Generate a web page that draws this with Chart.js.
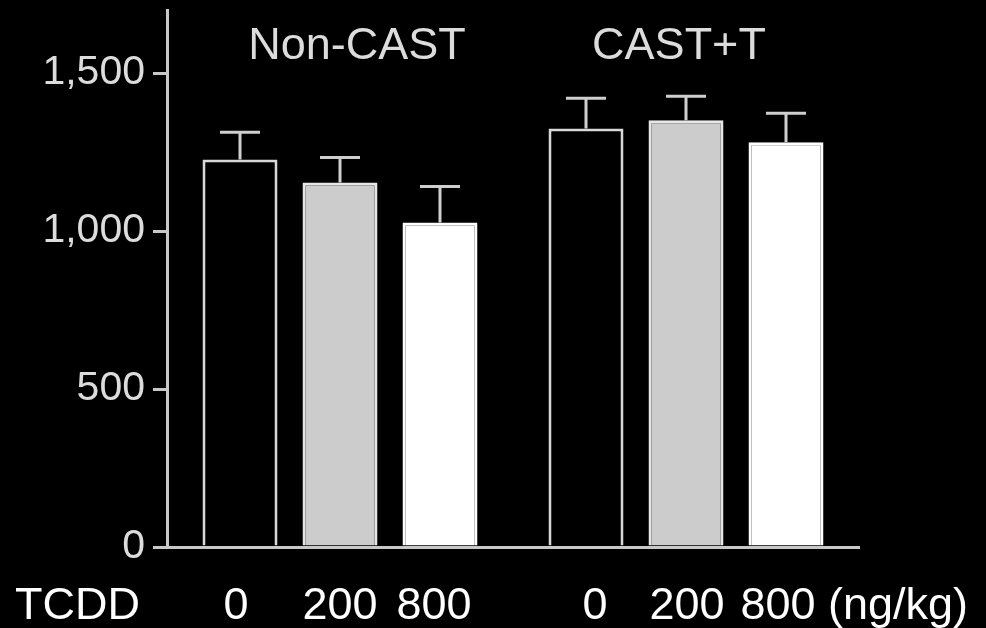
<!DOCTYPE html>
<html>
<head>
<meta charset="utf-8">
<script src="https://cdn.jsdelivr.net/npm/chart.js@4/dist/chart.umd.min.js"></script>
<style>
  html, body { margin: 0; padding: 0; background: #000; }
  #wrap { width: 986px; height: 628px; position: relative; }
</style>
</head>
<body>
<div id="wrap"><canvas id="c" width="986" height="628"></canvas></div>
<script>
// ---- data ----
const groups = ['Non-CAST', 'CAST+T'];
const doses = ['0', '200', '800'];
const mean0 = [1227, 1325];
const mean200 = [1154, 1351];
const mean800 = [1027, 1281];
const err0 = [86, 96];
const err200 = [79, 76];
const err800 = [114, 92];
const yTickValues = [0, 500, 1000, 1500];
const yMax = 1700;
const xLabel = 'TCDD';
const doseUnit = '(ng/kg)';

const means = [mean0, mean200, mean800];
const errs = [err0, err200, err800];
const fills = ['#000000', '#cccccc', '#ffffff'];
const borders = ['#d8d8d8', '#e6e6e6', '#ffffff'];

const errorBars = {
  id: 'errorBars',
  afterDatasetsDraw(chart) {
    const ctx = chart.ctx;
    const y = chart.scales.y;
    ctx.save();
    ctx.strokeStyle = '#cfcfcf';
    ctx.lineWidth = 3;
    chart.data.datasets.forEach((ds, i) => {
      const meta = chart.getDatasetMeta(i);
      meta.data.forEach((el, j) => {
        const top = y.getPixelForValue(ds.data[j] + errs[i][j]);
        ctx.beginPath();
        ctx.moveTo(el.x, el.y);
        ctx.lineTo(el.x, top);
        ctx.moveTo(el.x - 20, top);
        ctx.lineTo(el.x + 20, top);
        ctx.stroke();
      });
    });
    ctx.restore();
  }
};

const textLabels = {
  id: 'textLabels',
  afterDraw(chart) {
    const ctx = chart.ctx;
    const x = chart.scales.x;
    const area = chart.chartArea;
    const titleShift = [17, -7];
    const labelShift = [[-4, 0, -6], [9, 1, -8]];
    ctx.save();
    // group titles
    ctx.fillStyle = '#dcdcdc';
    ctx.font = '45px "Liberation Sans", Arial, sans-serif';
    ctx.textAlign = 'center';
    ctx.textBaseline = 'middle';
    groups.forEach((g, i) => {
      ctx.fillText(g, x.getPixelForValue(i) + titleShift[i], area.top + 37);
    });
    // dose labels
    ctx.fillStyle = '#ffffff';
    ctx.font = '45px "Liberation Sans", Arial, sans-serif';
    ctx.textBaseline = 'alphabetic';
    const base = area.bottom + 72;
    ctx.textAlign = 'left';
    ctx.fillText(xLabel, 15, base);
    ctx.textAlign = 'center';
    let lastRight = 0;
    for (let gi = 0; gi < groups.length; gi++) {
      doses.forEach((d, di) => {
        const el = chart.getDatasetMeta(di).data[gi];
        const cx = el.x + labelShift[gi][di];
        ctx.fillText(d, cx, base);
        lastRight = cx + ctx.measureText(d).width / 2;
      });
    }
    ctx.textAlign = 'left';
    ctx.fillText(doseUnit, lastRight + ctx.measureText(' ').width, base);
    ctx.restore();
  }
};

new Chart(document.getElementById('c'), {
  type: 'bar',
  data: {
    labels: groups,
    datasets: doses.map((d, i) => ({
      label: d,
      data: means[i],
      backgroundColor: fills[i],
      borderColor: borders[i],
      borderWidth: 3,
      borderSkipped: 'start',
      categoryPercentage: 0.867,
      barPercentage: 0.75
    }))
  },
  options: {
    responsive: false,
    animation: false,
    events: [],
    layout: { padding: { left: 0, top: 10, right: 127, bottom: 81 } },
    plugins: { legend: { display: false }, tooltip: { enabled: false }, title: { display: false } },
    scales: {
      x: {
        type: 'category',
        offset: true,
        ticks: { display: false },
        grid: { display: false, drawTicks: false },
        border: { display: true, color: '#c8c8c8', width: 3 },
        afterFit(axis) { axis.height = 0; axis.paddingLeft = 0; axis.paddingRight = 0; }
      },
      y: {
        min: 0,
        max: yMax,
        ticks: {
          stepSize: 500,
          color: '#dcdcdc',
          padding: 8,
          font: { family: '"Liberation Sans", Arial, sans-serif', size: 41 }
        },
        afterBuildTicks(axis) {
          axis.ticks = yTickValues.map(v => ({ value: v }));
        },
        grid: { drawOnChartArea: false, drawTicks: true, tickLength: 14, color: '#c8c8c8', lineWidth: 3 },
        border: { display: true, color: '#c8c8c8', width: 3 },
        afterFit(axis) { axis.width = 167; axis.paddingTop = 0; axis.paddingBottom = 0; }
      }
    }
  },
  plugins: [errorBars, textLabels]
});
</script>
</body>
</html>
